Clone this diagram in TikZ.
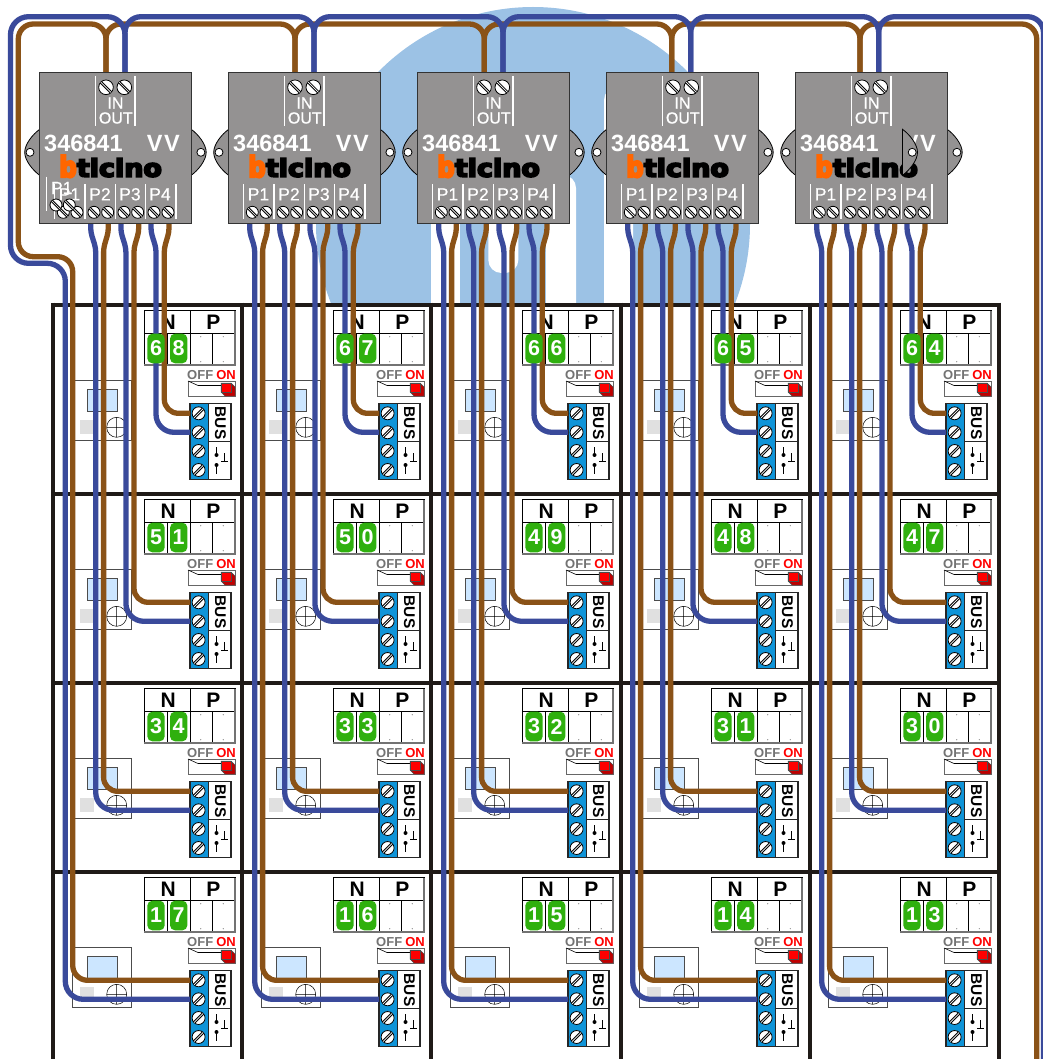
\documentclass[tikz,border=0pt]{standalone}
\usepackage{fontspec}
\setmainfont{Liberation Sans}
\newfontfamily\brandfont[FakeBold=7]{DejaVu Sans Bold}
\newfontfamily\portfont[FakeBold=.6]{Liberation Sans}
\definecolor{logoblue}{HTML}{9CC2E5}
\definecolor{busblue}{HTML}{3A4A9B}
\definecolor{busbrown}{HTML}{8A5217}
\definecolor{modgray}{HTML}{949292}
\definecolor{framedark}{HTML}{1F1A17}
\definecolor{termblue}{HTML}{0F94D8}
\definecolor{ledgreen}{HTML}{2FB00E}
\definecolor{paneblue}{HTML}{CCE6FF}
\newcommand{\fsz}[1]{\fontsize{#1}{#1}\selectfont}
\tikzset{
	wireblue/.style={draw=busblue, line width=5.3},
	wirebrown/.style={draw=busbrown, line width=5.3},
	modbox/.style={draw=black!80, line width=.8, fill=modgray, inner sep=0, minimum width=151.5, minimum height=151},
	modtext/.style={text=white, inner sep=0, font=\portfont\fsz{17.5}},
	modbar/.style={draw=white, line width=1.2},
	digitbox/.style={fill=ledgreen, rounded corners=5, inner sep=0, minimum width=17.4, minimum height=29.6, text=white, font=\bfseries\fsz{21.5}},
	tableline/.style={draw=black, line width=.8},
	tableshade/.style={draw=black!55, line width=1.2},
	label/.style={inner sep=0, font=\bfseries\fsz{21}},
	swtext/.style={inner sep=0, font=\bfseries\fsz{13}},
	screw/.pic={
		\draw[black, line width=.8, fill=white] (0,0) circle (6);
		\draw[black, line width=2.8] (-4.2,-4.2) -- (4.2,4.2);
		\draw[white, line width=.7] (-4.2,-4.2) -- (4.2,4.2);
	},
	ear/.pic={
		\draw[black, line width=.8, fill=modgray] (0,-23) .. controls (-7,-18) and (-15,-8) .. (-15,0) .. controls (-15,8) and (-7,18) .. (0,23) -- cycle;
		\draw[black, line width=.8, fill=white] (-9.7,0) circle (4);
	},
}
\begin{document}
\begin{tikzpicture}[x=1pt, y=-1pt]
	\useasboundingbox (0,0) rectangle (1042,1059);
	\fill[logoblue] (533,224) circle (217);
	\fill[white] (430.7,120) rectangle (460,310);
	\fill[white, rounded corners=13] (488.3,120) rectangle (518.3,273);
	\fill[white, rounded corners=13] (546,175) rectangle (576,330);
	\fill[white, rounded corners=13] (604,87) rectangle (633,330);
	\fill[white] (53,304.5) rectangle (999,1059);
	\foreach \r in {0,...,3}
		\foreach \c in {0,...,4} {
			\begin{scope}[shift={(189*\c,189*\r)}]
				\draw[tableline] (144.3,310.5) rectangle (235,365);
				\draw[tableline] (144.3,333.3) -- (235,333.3) (190,310.5) -- (190,365) (167,333.3) -- (167,365) (212.5,333.3) -- (212.5,365);
				\draw[tableshade] (144.3,365) -- (235,365) -- (235,310.5);
				\fill[black!50] (200.7,336.7) circle (.6) (223.3,336.7) circle (.6) (200.7,361.7) circle (.6) (223.3,361.7) circle (.6);
				\node[label] (n-\c-\r) at (168.3,322.5) {N};
				\node[label] (p-\c-\r) at (213.3,322.5) {P};
				\node[swtext, text=black!55] (off-\c-\r) at (200.2,375) {OFF};
				\node[swtext, text=red] (on-\c-\r) at (226,375) {ON};
				\draw[black!60, line width=1, fill=white] (188,381) rectangle (235,396);
				\draw[black, line width=.6] (188,381) -- (198,385.5) -- (222,385.5);
				\filldraw[draw=black!70, fill=red!75!black, line width=.4] (221,383) -- (231,383) -- (235,387) -- (235,396) -- (225,396) -- (221,392) -- cycle;
				\filldraw[draw=black!70, fill=red, line width=.4] (221,383) rectangle (231,392.5);
				\draw[black!70, line width=1, fill=white] (72,380) rectangle (131.7,440.7);
				\draw[black!70, line width=.8, fill=paneblue] (87,389) rectangle (117,411.7);
				\fill[black!12] (80,420) rectangle (94,434);
				\draw[black, line width=.5] (116.7,427.3) circle (10) (106.7,427.3) -- (126.7,427.3) (116.7,417.3) -- (116.7,437.3);
				\draw[black!85, line width=1.2, fill=white] (190,403.3) rectangle (231,479.3);
				\filldraw[draw=black!85, fill=termblue, line width=1.2] (190,403.3) rectangle (208.5,479.3);
				\draw[black!85, line width=1] (208.5,441.7) -- (231,441.7);
				\foreach \s/\sy in {1/413.3,2/432.3,3/451,4/470}
					\pic[rotate=90, scale=1.08] at (198.6,\sy) {screw};
				\node[inner sep=0, rotate=-90, font=\bfseries\fsz{15.5}] (bus-\c-\r) at (220.5,423) {BUS};
				\draw[black, line width=1] (216.5,447) -- (216.5,455) (216.5,465) -- (216.5,473.5) (221,461) -- (228,461) (224.5,453) -- (224.5,461);
				\fill[black] (216.5,455) circle (2) (216.5,465) circle (2);
				\coordinate (pinb-\c-\r) at (190,413.3);
				\coordinate (pina-\c-\r) at (190,432.3);
			\end{scope}
		}
	\foreach \r in {0,...,4}
		\draw[draw=framedark, line width=4] (51,304.5+189*\r) -- (1001,304.5+189*\r);
	\foreach \c in {0,...,5}
		\draw[draw=framedark, line width=4] (53+189.2*\c,302.5) -- (53+189.2*\c,1061);
	\foreach \m/\bx/\ax in {0/106/125,1/295/314,2/484.3/503,3/671.7/690.7,4/860/878.7} {
		\coordinate (inb-\m) at (\bx,72);
		\coordinate (ina-\m) at (\ax,72);
		\coordinate (busb-\m) at (\bx,24);
		\coordinate (busa-\m) at (\ax,16.7);
	}
	\coordinate (busb-5) at (1036.7,24);
	\coordinate (busa-5) at (1043.5,16.7);
	\coordinate (exitb) at (1036.7,1062);
	\coordinate (exita) at (1043.5,1062);
	\coordinate (loopb-1) at (18.3,24);
	\coordinate (loopb-2) at (18.3,256.7);
	\coordinate (loopb-3) at (72.7,256.7);
	\coordinate (loopa-1) at (10.5,16.7);
	\coordinate (loopa-2) at (10.5,263.3);
	\coordinate (loopa-3) at (65.3,263.3);
	\foreach \m/\p in {0/1,1/2,2/3,3/4}
		\draw[wirebrown, rounded corners=15] (inb-\m) -- (busb-\m) -- (busb-\p) -- (inb-\p);
	\draw[wirebrown, rounded corners=15] (inb-4) -- (busb-4) -- (busb-5) -- (exitb);
	\draw[wirebrown, rounded corners=15] (inb-0) -- (busb-0) -- (loopb-1) -- (loopb-2) -- (loopb-3) |- (pinb-0-3);
	\foreach \m/\p in {0/1,1/2,2/3,3/4}
		\draw[wireblue, rounded corners=16] (ina-\m) -- (busa-\m) -- (busa-\p) -- (ina-\p);
	\draw[wireblue, rounded corners=16] (ina-4) -- (busa-4) -- (busa-5) -- (exita);
	\draw[wireblue, rounded corners=18] (ina-0) -- (busa-0) -- (loopa-1) -- (loopa-2) -- (loopa-3) |- (pina-0-3);
	\foreach \m in {0,...,4}
		\foreach \p/\r/\ax/\bx in {1/3/60.7/78.3,2/2/90.7/108.3,3/1/120.9/138.7,4/0/151/169} {
			\coordinate (outa-\m-\p) at (\ax+189*\m,223);
			\coordinate (outb-\m-\p) at (\bx+189*\m,223);
			\ifnum\m\p=1 \relax\else
				\draw[wirebrown, rounded corners=4] (outb-\m-\p) -- ++(0,9) -- ++(-4.7,16) [rounded corners=14] |- (pinb-\m-\r);
				\draw[wireblue, rounded corners=4] (outa-\m-\p) -- ++(0,9) -- ++(5,16) [rounded corners=18] |- (pina-\m-\r);
			\fi
		}
	\foreach \r in {0,...,3}
		\foreach \c in {0,...,4} {
			\pgfmathtruncatemacro{\num}{68-\c-17*\r}
			\pgfmathtruncatemacro{\tens}{\num/10}
			\pgfmathtruncatemacro{\ones}{\num-10*\tens}
			\node[digitbox] (d\num a) at (156+189*\c,348.5+189*\r) {\tens};
			\node[digitbox] (d\num b) at (178.7+189*\c,348.5+189*\r) {\ones};
		}
	\foreach \m in {0,...,4} {
		\begin{scope}[shift={(189*\m,0)}]
			\pic at (39.7,152.3) {ear};
			\pic[xscale=-1] at (191.2,152.3) {ear};
			\node[modbox] (mod\m) at (115.45,147.5) {};
			\draw[modbar] (95.7,76) -- (95.7,125.7) (135,76) -- (135,125.7);
			\pic[scale=1.22] at (106,87.3) {screw};
			\pic[scale=1.22] at (124.3,87.3) {screw};
			\node[modtext, font=\portfont\fsz{16}] (in\m) at (115.5,103) {IN};
			\node[modtext, font=\portfont\fsz{16}] (out\m) at (115.8,118) {OUT};
			\node[modtext, font=\bfseries\fsz{23.5}, anchor=west] (code\m) at (44,143) {346841};
			\node[modtext, font=\bfseries\fsz{23.5}] (vv\m) at (163.3,143) {V\hspace{1.5pt}V};
			\node[inner sep=0, anchor=north west, text={rgb,255:red,255;green,102;blue,0}] (logob\m) at (59,155) {\resizebox{17.7pt}{22pt}{\brandfont b}};
			\node[inner sep=0, anchor=north west] (logot\m) at (76.7,158) {\resizebox{85pt}{18.5pt}{\brandfont ticino}};
			\foreach \bar in {54.3,85,115.3,145.7,176}
				\draw[modbar] (\bar,184.3) -- (\bar,219);
			\foreach \p/\px/\sa/\sb in {1/69.5/63.3/77,2/100/94/107.7,3/130/124/137.7,4/160/154/168} {
				\node[modtext] (port\m-\p) at (\px,194.3) {P\p};
				\pic at (\sa,212.3) {screw};
				\pic at (\sb,212.3) {screw};
			}
		\end{scope}
	}
	\draw[modbar] (46.7,176.7) -- (46.7,211);
	\node[modtext] (extra) at (61.7,188) {P1};
	\pic at (56,205) {screw};
	\pic at (69.3,205) {screw};
	\pic[xscale=-1] at (902.5,152.3) {ear};
\end{tikzpicture}
\end{document}
